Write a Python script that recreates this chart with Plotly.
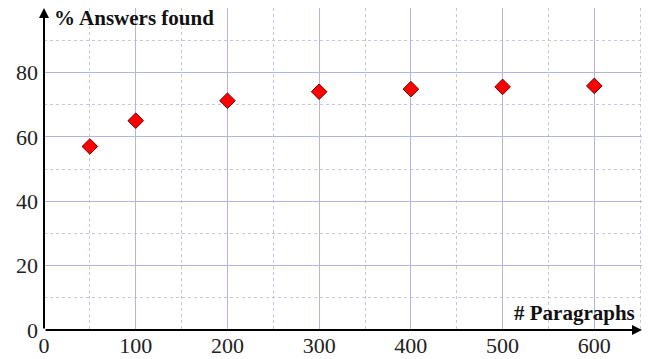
import plotly.graph_objects as go

paragraphs = [50, 100, 200, 300, 400, 500, 600]
answers_found = [57, 65, 71.2, 74, 74.8, 75.5, 75.8]
x_ticks = [0, 100, 200, 300, 400, 500, 600]
y_ticks = [0, 20, 40, 60, 80]

SERIF = "Liberation Serif, Times New Roman, serif"

fig = go.Figure()
fig.add_trace(go.Scatter(
    x=paragraphs, y=answers_found, mode="markers",
    marker=dict(symbol="diamond", size=12, color="#ff0000",
                line=dict(color="#6b0000", width=1)),
    cliponaxis=False, showlegend=False))

grid_major = "#b4b4e4"
grid_minor = "#c4c4e8"
fig.update_xaxes(
    range=[0, 652], tickvals=x_ticks, ticktext=[str(v) for v in x_ticks],
    showgrid=True, gridcolor=grid_major, gridwidth=1,
    minor=dict(dtick=50, tick0=0, showgrid=True, gridcolor=grid_minor, griddash="dot", gridwidth=1),
    zeroline=False, showline=False, ticks="", automargin=False, ticklabelstandoff=0,
    tickfont=dict(family=SERIF, size=22, color="#222"))
fig.update_yaxes(
    range=[0, 100], tickvals=y_ticks, ticktext=[str(v) for v in y_ticks],
    showgrid=True, gridcolor=grid_major, gridwidth=1,
    minor=dict(dtick=10, tick0=0, showgrid=True, gridcolor=grid_minor, griddash="dot", gridwidth=1),
    zeroline=False, showline=False, ticks="", automargin=False, ticklabelstandoff=5,
    tickfont=dict(family=SERIF, size=22, color="#222"))

# axis arrows
fig.add_annotation(x=652, y=0, ax=0, ay=0, xref="x", yref="y", axref="x", ayref="y",
                   showarrow=True, arrowhead=2, arrowsize=1, arrowwidth=2, arrowcolor="black", text="")
fig.add_annotation(x=0, y=100, ax=0, ay=0, xref="x", yref="y", axref="x", ayref="y",
                   showarrow=True, arrowhead=2, arrowsize=1, arrowwidth=2, arrowcolor="black", text="")

fig.add_annotation(x=0, y=100, xref="x", yref="y", xanchor="left", yanchor="middle", xshift=9, yshift=-10,
                   borderpad=0, text="<b>% Answers found</b>", showarrow=False,
                   font=dict(family=SERIF, size=21, color="#111"))
fig.add_annotation(x=652, y=0, xref="x", yref="y", xanchor="right", yanchor="middle", xshift=-5, yshift=17,
                   text="<b># Paragraphs</b>", showarrow=False,
                   font=dict(family=SERIF, size=21, color="#111"))

fig.update_layout(
    width=650, height=359,
    margin=dict(l=44, r=8, t=8, b=29),
    plot_bgcolor="white", paper_bgcolor="white")

fig.write_html("out.html", config={"displayModeBar": False},
               post_script="document.body.style.margin='0';")
